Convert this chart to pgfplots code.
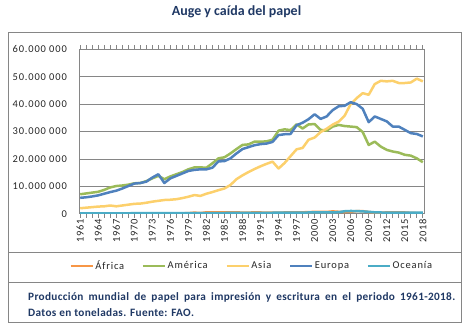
\documentclass[border=0pt]{standalone}
\usepackage{fontspec}
\setmainfont{Carlito}
\usepackage{pgfplots}
\pgfplotsset{compat=1.18}
\usepackage{pgfplotstable}
\definecolor{cafr}{HTML}{F79646}
\definecolor{came}{HTML}{9BBB59}
\definecolor{casi}{HTML}{FCD06C}
\definecolor{ceur}{HTML}{4F81BD}
\definecolor{coce}{HTML}{4BACC6}
\definecolor{gridgray}{HTML}{868686}
\definecolor{titleblue}{HTML}{1F3864}
\pgfplotstableread{
year afr ame asi eur oce
1961 0.10 7.1 2.0 5.8 0.15
1962 0.10 7.4 2.2 6.0 0.15
1963 0.10 7.7 2.4 6.3 0.15
1964 0.10 8.0 2.6 6.7 0.15
1965 0.10 8.7 2.7 7.3 0.15
1966 0.10 9.6 3.0 7.9 0.15
1967 0.10 10.1 2.7 8.4 0.15
1968 0.10 10.3 3.0 9.2 0.15
1969 0.10 10.6 3.3 10.1 0.15
1970 0.10 11.1 3.6 11.0 0.20
1971 0.10 11.2 3.7 11.2 0.20
1972 0.10 11.9 4.0 11.7 0.20
1973 0.10 12.9 4.4 13.2 0.20
1974 0.10 13.8 4.7 14.4 0.20
1975 0.10 12.6 5.0 11.2 0.20
1976 0.15 13.6 5.1 12.9 0.20
1977 0.15 14.4 5.3 13.8 0.20
1978 0.15 15.2 5.7 14.7 0.20
1979 0.20 16.2 6.2 15.6 0.20
1980 0.40 16.9 6.8 16.0 0.20
1981 0.25 16.9 6.5 16.2 0.20
1982 0.50 16.8 7.3 16.2 0.25
1983 0.50 18.4 7.9 16.8 0.25
1984 0.50 20.2 8.6 19.1 0.25
1985 0.50 20.6 9.2 19.2 0.25
1986 0.50 22.0 10.5 20.2 0.30
1987 0.50 23.6 12.6 22.0 0.30
1988 0.40 25.1 14.0 23.6 0.35
1989 0.40 25.3 15.2 24.3 0.35
1990 0.50 26.3 16.3 25.0 0.35
1991 0.45 26.3 17.3 25.4 0.35
1992 0.40 26.4 18.2 25.6 0.35
1993 0.35 27.0 19.0 26.2 0.35
1994 0.40 30.3 16.5 28.7 0.40
1995 0.45 30.8 18.5 29.0 0.40
1996 0.45 30.5 21.0 29.1 0.40
1997 0.50 32.6 23.5 32.3 0.40
1998 0.50 31.1 24.0 33.2 0.40
1999 0.60 32.6 27.0 34.5 0.45
2000 0.65 32.7 27.8 36.3 0.45
2001 0.65 30.6 29.8 34.6 0.45
2002 0.65 30.3 31.0 35.5 0.45
2003 0.85 31.8 32.5 37.8 0.50
2004 0.70 32.4 33.6 39.2 0.55
2005 0.60 32.0 35.8 39.4 0.90
2006 0.70 31.8 40.0 40.7 1.00
2007 0.95 31.6 42.2 40.0 0.95
2008 0.95 29.8 44.0 38.3 0.85
2009 0.60 25.1 43.4 33.4 0.70
2010 0.40 26.3 47.3 35.5 0.50
2011 0.30 24.5 48.5 34.6 0.45
2012 0.50 23.3 48.3 33.7 0.40
2013 0.50 22.7 48.5 31.8 0.40
2014 0.50 22.3 47.7 31.8 0.40
2015 0.45 21.5 47.7 30.6 0.40
2016 0.30 21.2 47.9 29.4 0.40
2017 0.25 20.2 49.3 29.1 0.40
2018 0.20 18.8 48.3 28.2 0.40
}\datatable
\newcommand{\tickfont}{\fontsize{10.5}{12}\selectfont\addfontfeature{LetterSpace=8}}
\newcommand{\capfont}{\bfseries\fontsize{11.3}{13}\selectfont\addfontfeature{LetterSpace=3}}
\begin{document}
\begin{tikzpicture}[x=1bp,y=1bp]
\path (0,0) rectangle (468,-328);
\draw[gridgray, line width=0.75bp] (8,-32) rectangle (461,-322);
\draw[gridgray, line width=0.75bp] (8,-252) -- (461,-252);
\draw[gridgray, line width=0.75bp] (8,-282) -- (461,-282);
\node[font=\bfseries\fontsize{14}{16}\selectfont, text=titleblue] at (236.5,-12) {Auge y caída del papel};
\node[anchor=west, inner sep=0pt, font=\capfont, text=titleblue] at (28,-297.3) {\makebox[427bp][s]{Producción mundial de papel para impresión y escritura en el periodo 1961-2018.}};
\node[anchor=west, inner sep=0pt, font=\capfont, text=titleblue] at (28,-312.3) {Datos en toneladas. Fuente: FAO.};
\begin{axis}[
  at={(79bp,-213.7bp)}, anchor=south west,
  scale only axis, width=345bp, height=164.4bp,
  xmin=1960.8, xmax=2018.2, ymin=0, ymax=60,
  /pgf/number format/1000 sep={},
  /pgf/number format/assume math mode=true,
  xtick={1961,1964,...,2018},
  minor xtick={1961,...,2018},
  tick align=outside,
  major tick length=4bp, minor tick length=4bp,
  xtick style={gridgray, line width=0.75bp},
  minor tick style={gridgray, line width=0.75bp},
  ytick={0,10,...,60},
  yticklabels={0,10.000 000,20.000 000,30.000 000,40.000 000,50.000 000,60.000 000},
  ytick style={draw=none},
  ymajorgrids,
  grid style={gridgray, line width=0.75bp},
  axis line style={gridgray, line width=0.75bp},
  xticklabel style={rotate=90, anchor=east, font=\tickfont, text=black!85, inner sep=1bp},
  yticklabel style={anchor=east, font=\tickfont, text=black!85, inner sep=0pt, xshift=-8bp},
  legend columns=5,
  legend style={at={(0.5,-0.318)}, anchor=center, draw=none, fill=none,
    font=\tickfont, text=black!85,
    /tikz/every even column/.append style={column sep=16bp},
    nodes={inner sep=1.5bp}},
  legend image code/.code={\draw[#1] (0bp,0bp) -- (22bp,0bp);},
  every axis plot/.append style={line width=2.5bp, line join=round},
]
\addplot[cafr] table[x=year, y=afr] {\datatable};
\addlegendentry{África}
\addplot[came] table[x=year, y=ame] {\datatable};
\addlegendentry{América}
\addplot[casi] table[x=year, y=asi] {\datatable};
\addlegendentry{Asia}
\addplot[ceur] table[x=year, y=eur] {\datatable};
\addlegendentry{Europa}
\addplot[coce] table[x=year, y=oce] {\datatable};
\addlegendentry{Oceanía}
\end{axis}
\end{tikzpicture}
\end{document}
